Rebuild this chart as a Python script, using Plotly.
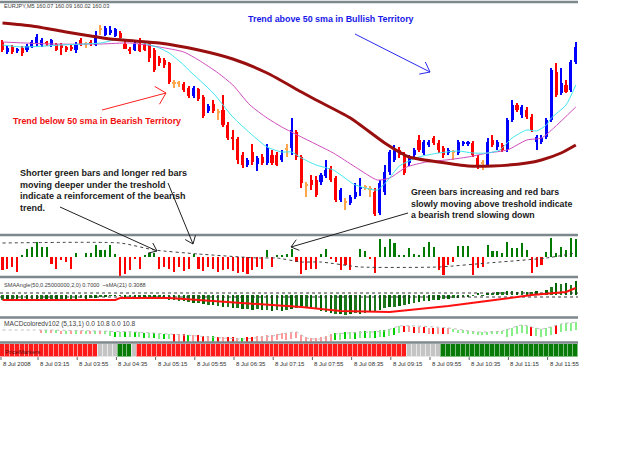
import math
import plotly.graph_objects as go

W, H = 625, 469
PLOT_W = 578

# ---------------- data ----------------
time_labels = ["8 Jul 2008", "8 Jul 03:15", "8 Jul 03:55", "8 Jul 04:35", "8 Jul 05:15",
               "8 Jul 05:55", "8 Jul 06:35", "8 Jul 07:15", "8 Jul 07:55", "8 Jul 08:35",
               "8 Jul 09:15", "8 Jul 09:55", "8 Jul 10:35", "8 Jul 11:15", "8 Jul 11:55"]
time_label_bars = [0, 8, 16, 24, 32, 40, 48, 56, 64, 72, 80, 88, 96, 104, 112]

open_ = [160.08, 159.98, 160.03, 159.99, 160.02, 160.00, 160.03, 160.06, 160.05, 160.08,
         160.05, 160.06, 160.05, 160.03, 160.03, 160.00, 160.10, 160.05, 160.08, 160.05,
         160.20, 160.15, 160.17, 160.14, 160.17, 160.06, 160.01, 160.00, 160.06, 160.06,
         160.07, 160.00, 159.92, 159.90, 159.87, 159.67, 159.66, 159.66, 159.62, 159.54,
         159.61, 159.53, 159.39, 159.46, 159.37, 159.40, 159.25, 159.13, 159.11, 158.95,
         158.85, 158.98, 158.86, 158.93, 158.87, 158.95, 158.95, 158.90, 159.00, 159.02,
         159.18, 158.93, 158.64, 158.70, 158.70, 158.68, 158.74, 158.82, 158.72, 158.50,
         158.47, 158.47, 158.53, 158.61, 158.62, 158.60, 158.58, 158.37, 158.58, 158.78,
         158.90, 159.00, 158.95, 158.87, 158.95, 159.10, 158.97, 159.05, 159.12, 159.07,
         159.02, 158.97, 158.97, 158.97, 159.06, 159.06, 159.07, 158.92, 158.86, 158.85,
         159.10, 159.03, 159.05, 159.00, 159.30, 159.45, 159.35, 159.40, 159.33, 159.08,
         159.08, 159.13, 159.30, 159.78, 159.57, 159.65, 159.60, 159.88]
high = [160.10, 160.04, 160.05, 160.02, 160.04, 160.06, 160.10, 160.16, 160.12, 160.09,
        160.11, 160.07, 160.07, 160.04, 160.05, 160.08, 160.12, 160.08, 160.10, 160.19,
        160.25, 160.24, 160.24, 160.22, 160.19, 160.10, 160.03, 160.08, 160.12, 160.07,
        160.08, 160.02, 159.94, 159.92, 159.88, 159.70, 159.69, 159.68, 159.64, 159.64,
        159.62, 159.55, 159.46, 159.50, 159.41, 159.55, 159.28, 159.20, 159.13, 158.98,
        158.92, 159.06, 158.94, 158.96, 159.06, 159.00, 158.98, 159.00, 159.06, 159.32,
        159.20, 158.95, 158.68, 158.75, 158.74, 158.77, 158.90, 158.84, 158.74, 158.62,
        158.52, 158.55, 158.67, 158.72, 158.65, 158.64, 158.62, 158.70, 158.85, 159.00,
        159.05, 159.03, 158.98, 158.95, 159.02, 159.15, 159.10, 159.10, 159.14, 159.10,
        159.04, 159.02, 159.00, 159.10, 159.09, 159.09, 159.09, 158.95, 158.90, 159.12,
        159.15, 159.10, 159.07, 159.32, 159.50, 159.47, 159.45, 159.43, 159.36, 159.15,
        159.15, 159.32, 159.82, 159.87, 159.82, 159.70, 159.90, 160.08]
low = [159.98, 159.96, 159.96, 159.97, 159.94, 159.98, 160.02, 160.04, 160.03, 160.04,
       160.03, 159.99, 159.95, 159.98, 159.99, 159.97, 160.04, 160.02, 160.04, 160.04,
       160.15, 160.14, 160.15, 160.13, 160.10, 160.01, 159.96, 159.99, 159.98, 159.99,
       159.88, 159.78, 159.84, 159.82, 159.66, 159.62, 159.63, 159.58, 159.52, 159.52,
       159.49, 159.32, 159.37, 159.37, 159.30, 159.23, 159.10, 159.00, 158.86, 158.82,
       158.83, 158.85, 158.79, 158.85, 158.85, 158.85, 158.84, 158.88, 158.93, 158.95,
       158.90, 158.62, 158.53, 158.60, 158.53, 158.65, 158.72, 158.68, 158.48, 158.48,
       158.40, 158.45, 158.51, 158.54, 158.60, 158.53, 158.34, 158.35, 158.55, 158.75,
       158.88, 158.92, 158.75, 158.84, 158.92, 158.98, 158.95, 159.03, 159.05, 158.97,
       158.92, 158.95, 158.90, 158.95, 159.04, 159.04, 158.93, 158.81, 158.80, 158.83,
       159.03, 159.00, 158.98, 158.98, 159.28, 159.38, 159.32, 159.31, 159.18, 159.00,
       159.06, 159.11, 159.28, 159.53, 159.55, 159.57, 159.58, 159.86]
close = [160.00, 160.02, 159.98, 160.01, 159.97, 160.04, 160.08, 160.13, 160.10, 160.06,
         160.10, 160.00, 160.02, 160.00, 160.01, 160.06, 160.05, 160.05, 160.06, 160.15,
         160.20, 160.22, 160.20, 160.21, 160.12, 160.01, 159.99, 160.06, 159.99, 160.00,
         159.92, 159.80, 159.87, 159.85, 159.68, 159.66, 159.66, 159.60, 159.54, 159.62,
         159.51, 159.34, 159.44, 159.39, 159.37, 159.25, 159.12, 159.11, 158.90, 158.85,
         158.90, 158.88, 158.92, 158.87, 159.02, 158.87, 158.85, 158.95, 159.00, 159.20,
         158.93, 158.67, 158.64, 158.65, 158.55, 158.75, 158.80, 158.70, 158.50, 158.60,
         158.47, 158.53, 158.58, 158.63, 158.62, 158.60, 158.36, 158.67, 158.78, 158.98,
         159.00, 158.95, 158.77, 158.93, 159.00, 159.00, 159.08, 159.08, 159.07, 159.00,
         158.95, 159.00, 158.97, 159.08, 159.08, 159.08, 158.95, 158.83, 158.86, 159.08,
         159.05, 159.08, 159.00, 159.30, 159.45, 159.40, 159.43, 159.33, 159.20, 159.13,
         159.12, 159.30, 159.80, 159.55, 159.67, 159.58, 159.88, 160.03]

sma50_bar = [0, 6, 13, 18, 22, 27, 32, 40, 47, 54, 61, 64, 71, 78, 83, 89, 95, 100, 107, 110, 114, 117]
sma50_val = [160.27, 160.24, 160.18, 160.14, 160.11, 160.09, 160.07, 160.00, 159.91, 159.77, 159.58,
             159.50, 159.32, 159.07, 158.93, 158.88, 158.84, 158.84, 158.87, 158.90, 158.97, 159.05]
fast_bar = [0, 4, 12, 20, 24, 28, 32, 34, 37, 38, 43, 47, 50.5, 54, 57, 59, 61, 64, 67.5, 71, 72,
            76.5, 78.5, 81, 85, 89, 93, 96, 99, 101.5, 104, 107, 109, 111, 112, 115, 117]
fast_val = [160.05, 160.03, 160.05, 160.07, 160.11, 160.08, 160.02, 159.97, 159.85, 159.80, 159.57,
            159.33, 159.17, 159.03, 158.98, 158.98, 158.92, 158.85, 158.80, 158.68, 158.65, 158.60,
            158.69, 158.84, 158.93, 158.97, 158.99, 158.97, 158.97, 159.00, 159.12, 159.20, 159.19,
            159.25, 159.32, 159.45, 159.65]
mid_bar = [0, 10, 20, 26, 32, 37, 40, 44, 47, 50.5, 54, 57, 61, 67.5, 72, 76.5, 79, 82.5, 86.5,
           90.5, 95, 99, 103, 107, 110, 112.5, 117]
mid_val = [160.08, 160.06, 160.06, 160.07, 160.03, 159.98, 159.90, 159.77, 159.65, 159.45, 159.32,
           159.23, 159.13, 158.97, 158.83, 158.70, 158.72, 158.83, 158.88, 158.90, 158.93, 158.97,
           159.00, 159.10, 159.12, 159.22, 159.43]

hist_vals = [-13, -12, -10, -15, 2, 8, 10, 15, 10, 10,
             -7, -12, -3, -5, -12, 4, 0, 4, 4, 12,
             7, 7, 12, 3, -20, -17, -13, -2, -12, 2,
             4, 4, -12, -10, -12, -15, -10, -14, -12, 3,
             -12, -14, -10, -12, -15, -13, -12, -14, -16, -15,
             -17, -13, -10, -12, 7, -10, 2, 2, 3, 8,
             -5, -17, -13, -12, -12, 3, 8, -2, -5, -13,
             -8, -13, 0, 8, 6, -2, -16, 18, 10, 18,
             14, 2, 2, 9, 3, 2, 10, 15, 10, -13,
             -18, -8, -5, 11, 11, 11, -18, -11, -10, 12,
             6, 6, 4, 15, 9, 9, 14, 7, -16, -10,
             -8, 5, 19, 4, 10, 7, 19, 18]
hist_sig_bar = [0, 24, 31, 40, 52, 56, 61, 65, 73, 89, 99, 111, 117]
hist_sig_val = [14, 14, 7, 3, -1, -1, -5, -5, -10, -10, -6, -1, 4]

angle_vals = [-5, -5, -6, -5, -5, -4, -4, -4, -5, -5,
              -5, -4, -5, -5, -4, -4, -3, -4, -3, -3,
              -2, -2, -1, -1, -1, -2, -2, -2, -2, -3,
              -3, -3, -4, -4, -5, -5, -6, -6, -7, -8,
              -8, -9, -10, -10, -11, -12, -12, -13, -13, -14,
              -14, -15, -14, -15, -15, -16, -15, -16, -15, -14,
              -13, -11, -12, -13, -14, -16, -17, -18, -19, -19,
              -20, -19, -18, -19, -18, -17, -16, -15, -13, -12,
              -12, -11, -10, -9, -8, -7, -6, -6, -5, -5,
              -4, -4, -3, -3, -2, -2, -1, 2, -1, 2,
              2, 3, 3, 4, 4, 3, 4, 3, 3, 4,
              2, 5, 8, 12, 11, 12, 10, 14]
angle_sig_bar = [0, 23, 24, 34, 40, 46, 53, 61, 69, 75, 79, 85, 91, 102, 108, 115, 117]
angle_sig_val = [-5, -5, -3, -3, -5, -7, -9, -12, -16, -17, -17, -14, -11, -4, 0, 3, 7]
angle_levels = [2, -2]

macd_top = [12, 12, 12, 12, 12, 12, 12, 12, 12, 12,
            12, 12, 11, 11, 11, 11, 11, 11, 11, 11,
            11, 11, 11, 10, 10, 10, 10, 10, 10, 9,
            9, 9, 8, 8, 8, 8, 8, 8, 7, 7,
            7, 6, 6, 6, 5, 5, 5, 5, 4, 4,
            5, 5, 6, 6, 7, 7, 8, 9, 9, 9,
            10, 7, 5, 4, 4, 5, 6, 8, 9, 9,
            10, 10, 10, 11, 11, 11, 11, 12, 12, 13,
            14, 16, 16, 16, 15, 15, 15, 14, 14, 14,
            14, 14, 13, 12, 12, 11, 11, 10, 10, 10,
            11, 11, 11, 13, 14, 16, 17, 16, 15, 14,
            13, 14, 15, 17, 18, 19, 19, 20]
macd_len = [0, 0, 0, 0, 0, 0, 0, 0, 3, 3,
            3, 3, 3, 3, 3, 3, 3, 3, 3, 3,
            3, 3, 5, 5, 5, 5, 5, 5, 5, 5,
            5, 5, 5, 5, 5, 9, 10, 9, 11, 10,
            9, 11, 10, 9, 10, 11, 9, 10, 9, 10,
            9, 10, 9, 6, 6, 7, 6, 6, 7, 6,
            6, 7, 7, 8, 7, 7, 8, 7, 7, 7,
            7, 7, 7, 7, 7, 7, 7, 7, 7, 7,
            7, 7, 6, 6, 6, 6, 6, 6, 6, 6,
            6, 6, 3, 3, 3, 3, 3, 3, 3, 3,
            3, 3, 3, 8, 8, 8, 8, 8, 9, 8,
            8, 8, 8, 9, 8, 8, 8, 8]
macd_cls = ("xxxxxxxx" + "plplplplplplpl" + "lGlGlGlGlGlGl" + "RpRGpRRpGRpRRpGRRp"
            + "pppppppp" + "ppppppp" + "GlGlGlGlGlGlGl" + "RpRpRpRpRp" + "lllllllllll"
            + "lllllRllllRllll")
macd_line_bar = [0, 8, 20, 27, 37, 49, 55, 60, 62, 65, 68, 78, 81, 91, 97, 102, 106, 110, 114, 117]
macd_line_val = [12, 12, 11, 10, 7, 3, 6, 10, 4, 3, 8, 11, 16, 14, 10, 11, 17, 13, 18, 20]

strip_cls = "r" * 20 + "n" * 4 + "g" * 3 + "n" + "r" * 55 + "n" * 7 + "g" * 28

N = len(close)
idx = list(range(N))

# ---------------- helpers ----------------
def px(x):
    return x / W


def py(y):
    return 1 - y / H


def dom(y_top, y_bot):
    return [1 - y_bot / H, 1 - y_top / H]


BLUE, RED, ORANGE = "#0000ff", "#ff0000", "#ffa64d"
candle_col = []
for o, c in zip(open_, close):
    if abs(c - o) < 0.015:
        candle_col.append(ORANGE)
    elif c > o:
        candle_col.append(BLUE)
    else:
        candle_col.append(RED)

fig = go.Figure()

# main panel: candles (wick + body)
fig.add_trace(go.Bar(x=idx, y=[h - l for h, l in zip(high, low)], base=low, width=0.22,
                     marker=dict(color=candle_col, line=dict(width=0)), xaxis="x", yaxis="y"))
fig.add_trace(go.Bar(x=idx, y=[max(abs(c - o), 0.012) for o, c in zip(open_, close)],
                     base=[min(o, c) for o, c in zip(open_, close)], width=0.64,
                     marker=dict(color=candle_col, line=dict(width=0)), xaxis="x", yaxis="y"))
fig.add_trace(go.Scatter(x=mid_bar, y=mid_val, mode="lines", line=dict(color="#d04cbc", width=1, shape="spline", smoothing=0.6),
                         xaxis="x", yaxis="y"))
fig.add_trace(go.Scatter(x=fast_bar, y=fast_val, mode="lines", line=dict(color="#3ee6f0", width=1, shape="spline", smoothing=0.6),
                         xaxis="x", yaxis="y"))
fig.add_trace(go.Scatter(x=sma50_bar, y=sma50_val, mode="lines", line=dict(color="#990f0f", width=3, shape="spline", smoothing=0.6),
                         xaxis="x", yaxis="y"))

# histogram panel
hcol = ["#007a00" if v > 0 else "#ff0000" for v in hist_vals]
fig.add_trace(go.Bar(x=idx, y=hist_vals, width=0.42, marker=dict(color=hcol, line=dict(width=0)),
                     xaxis="x", yaxis="y2"))
fig.add_trace(go.Scatter(x=hist_sig_bar, y=hist_sig_val, mode="lines",
                         line=dict(color="#404040", width=1, dash="dot", shape="spline", smoothing=0.5),
                         xaxis="x", yaxis="y2"))

# SMA angle panel
acol = ["#006400" if i % 2 else "#1f7a1f" for i in idx]
for lv in angle_levels:
    fig.add_trace(go.Scatter(x=[-0.5, N - 0.5], y=[lv, lv], mode="lines",
                             line=dict(color="#303030", width=1, dash="dot"), xaxis="x", yaxis="y3"))
fig.add_trace(go.Bar(x=idx, y=angle_vals, width=0.5, marker=dict(color=acol, line=dict(width=0)),
                     xaxis="x", yaxis="y3"))
fig.add_trace(go.Scatter(x=angle_sig_bar, y=angle_sig_val, mode="lines",
                         line=dict(color="#ff1010", width=2), xaxis="x", yaxis="y3"))

# MACD panel
mmap = {"x": "rgba(0,0,0,0)", "p": "#ff9a9a", "l": "#88ee88", "G": "#00d000", "R": "#ff0000"}
mcol = [mmap[c] for c in macd_cls]
fig.add_trace(go.Bar(x=idx, y=macd_len, base=[t - l for t, l in zip(macd_top, macd_len)], width=0.3,
                     marker=dict(color=mcol, line=dict(width=0)), xaxis="x", yaxis="y4"))
fig.add_trace(go.Scatter(x=macd_line_bar, y=macd_line_val, mode="lines",
                         line=dict(color="#bdbdbd", width=1, dash="dot", shape="spline", smoothing=0.6),
                         xaxis="x", yaxis="y4"))

# colour strip
smap = {"r": ("#ff1a1a", "#ff9a9a"), "g": ("#087a08", "#7fbf7f"), "n": ("#c4c4c4", "#e8e8e8")}
fig.add_trace(go.Bar(x=idx, y=[1] * N, width=1.0,
                     marker=dict(color=[smap[c][0] for c in strip_cls],
                                 line=dict(color=[smap[c][1] for c in strip_cls], width=1)),
                     xaxis="x", yaxis="y5"))

ax = dict(visible=False, fixedrange=True)
fig.update_layout(
    width=W, height=H, margin=dict(l=0, r=0, t=0, b=0),
    paper_bgcolor="white", plot_bgcolor="white", showlegend=False, barmode="overlay",
    bargap=0,
    xaxis=dict(domain=[0, PLOT_W / W], range=[-0.51, 117.45], **ax),
    yaxis=dict(domain=dom(3, 234), range=[158.16, 160.47], anchor="x", **ax),
    yaxis2=dict(domain=dom(237, 276), range=[-19, 20], anchor="x", **ax),
    yaxis3=dict(domain=dom(279, 316), range=[-21, 16], anchor="x", **ax),
    yaxis4=dict(domain=dom(319, 342), range=[0, 23], anchor="x", **ax),
    yaxis5=dict(domain=dom(344, 357), range=[0, 1], anchor="x", **ax),
    font=dict(family="Liberation Sans, Arial, sans-serif"),
)

shapes = []
for yb in [2, 235, 277, 317.5, 342.5]:
    shapes.append(dict(type="line", xref="paper", yref="paper", x0=0, x1=px(PLOT_W), y0=py(yb), y1=py(yb),
                       line=dict(color="#7d878c", width=2.5)))


def arrow(x0, y0, x1, y1, color, head=11, ang=38):
    shapes.append(dict(type="line", xref="paper", yref="paper", x0=px(x0), y0=py(y0), x1=px(x1), y1=py(y1),
                       line=dict(color=color, width=1)))
    d = math.atan2(y0 - y1, x0 - x1)
    for s in (-1, 1):
        a = d + s * math.radians(ang)
        hx, hy = x1 + head * math.cos(a), y1 + head * math.sin(a)
        shapes.append(dict(type="line", xref="paper", yref="paper", x0=px(x1), y0=py(y1), x1=px(hx), y1=py(hy),
                           line=dict(color=color, width=1)))


arrow(355, 34, 430, 72, "#2a2af0")
arrow(102, 110, 166, 93, "#ff2020", head=13, ang=45)
arrow(60, 207, 157, 251, "#202020", head=9)
arrow(168, 183, 193, 244, "#202020", head=9)
arrow(408, 213, 291, 247, "#202020", head=9)

ann = []


def text(x, y, s, size=6, color="#303030", bold=False):
    ann.append(dict(xref="paper", yref="paper", x=px(x), y=py(y), xanchor="left", yanchor="middle",
                    text=f"<b>{s}</b>" if bold else s, showarrow=False,
                    font=dict(size=size, color=color, family="Liberation Sans, Arial, sans-serif")))


text(2, 6, "EURJPY,M5 160.07 160.09 160.02 160.03", 5.6, "#404040")
text(246, 19, "Trend above 50 sma in Bullish Territory", 8.9, "#1818e8", True)
text(11, 121, "Trend below 50 sma in Bearish Territory", 8.9, "#f01010", True)
for k, s in enumerate(["Shorter green bars and longer red bars", "moving deeper under the treshold",
                       "indicate a reinforcement of the bearish", "trend."]):
    text(18, 173 + k * 11.7, s, 9.0, "#1a1a1a", True)
for k, s in enumerate(["Green bars increasing and red bars", "slowly moving above treshold indicate",
                       "a bearish trend slowing down"]):
    text(409, 192 + k * 11.5, s, 8.8, "#1a1a1a", True)
text(2, 285, "SMAAngle(50,0.25000000,2,0) 0.7000  ~sMA(21) 0.3088", 5.6, "#404040")
text(2, 324, "MACDcoloredv102 (5,13,1) 0.0 10.8 0.0 10.8", 6.6, "#404040")
text(3, 352, "PriceMarkers", 6, "#601010")

for b, lab in zip(time_label_bars, time_labels):
    xl = max(2.5 + 4.9 * b - 3.7, 1)
    text(xl, 364, lab, 6, "#303030")
    shapes.append(dict(type="line", xref="paper", yref="paper", x0=px(xl), x1=px(xl), y0=py(357), y1=py(360),
                       line=dict(color="#606060", width=1)))
fig.update_layout(annotations=ann, shapes=shapes)

fig.write_html("out.html")
